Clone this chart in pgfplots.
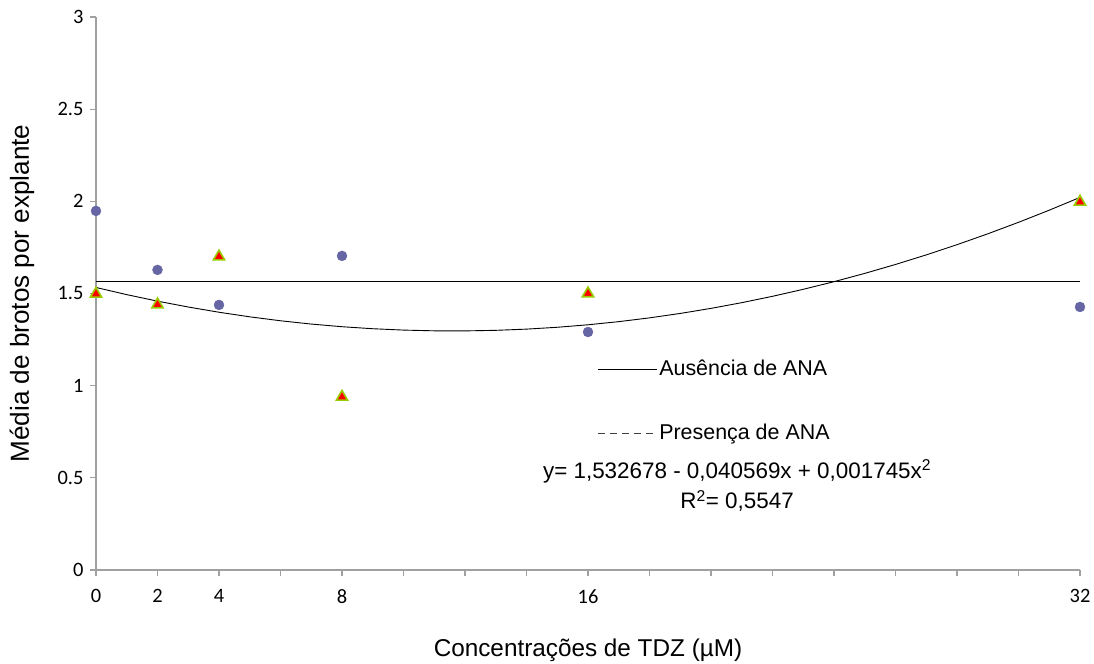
\documentclass[border=0pt]{standalone}
\usepackage{pgfplots}
\pgfplotsset{compat=1.18}
\usepackage{fontspec}
\setmainfont{Liberation Sans}
\newfontfamily\carlito{Carlito}
\definecolor{axgray}{RGB}{160,160,160}
\definecolor{circblue}{RGB}{102,102,164}
\definecolor{trired}{RGB}{255,0,0}
\definecolor{trigreen}{RGB}{153,204,0}
\begin{document}
\begin{tikzpicture}
\begin{axis}[
  at={(0,0)}, anchor=south west,
  scale only axis, width=984bp, height=553bp,
  xmin=0, xmax=32, ymin=0, ymax=3,
  axis lines*=left,
  axis line style={axgray, line width=1.2bp},
  xtick={0,2,4,8,16,32},
  minor xtick={6,10,12,14,18,20,22,24,26,28,30},
  ytick={0,0.5,1,1.5,2,2.5,3},
  yticklabels={0,0.5,1,1.5,2,2.5,3},
  tick align=outside,
  major tick length=6bp, minor tick length=6bp,
  every tick/.style={axgray, line width=1.2bp},
  /pgf/number format/assume math mode=true,
  ticklabel style={font=\carlito\fontsize{20.5}{24}\selectfont},
  xticklabel style={yshift=-10bp},
  yticklabel style={xshift=-3bp},
  xlabel={Concentrações de TDZ (µM)},
  ylabel={Média de brotos por explante},
  xlabel style={font=\fontsize{24.4}{28}\selectfont, at={(axis description cs:0.5,0)}, anchor=center, yshift=-80bp},
  ylabel style={font=\fontsize{26.2}{28}\selectfont, at={(axis description cs:0,0.5)}, anchor=center, yshift=74bp},
  clip=false,
  legend style={draw=none, fill=none, at={(axis cs:16.3,1.15)}, anchor=north west,
    font=\fontsize{21.5}{24}\selectfont, row sep=41bp, inner sep=0pt,
    nodes={text height=15bp, text depth=4bp, inner sep=2bp}},
  legend cell align=left,
  legend image code/.code={\draw[#1] (0bp,0bp) -- (59bp,0bp);},
]
% Horizontal line
\addplot[black, line width=0.9bp, forget plot] coordinates {(0,1.568) (32,1.568)};
% Quadratic fit curve
\addplot[black, line width=0.9bp, forget plot] coordinates {
(0,1.532678) (1,1.493854) (2,1.45852) (3,1.426676) (4,1.398322) (5,1.373458)
(6,1.352084) (7,1.3342) (8,1.319806) (9,1.308902) (10,1.301488) (11,1.297564)
(12,1.29713) (13,1.300186) (14,1.306732) (15,1.316768) (16,1.330294) (17,1.34731)
(18,1.367816) (19,1.391812) (20,1.419298) (21,1.450274) (22,1.48474) (23,1.522696)
(24,1.564142) (25,1.609078) (26,1.657504) (27,1.70942) (28,1.764826) (29,1.823722)
(30,1.886108) (31,1.951984) (32,2.02135)};
% circles
\addplot[only marks, mark=*, mark size=5bp, circblue, mark options={draw=circblue, fill=circblue}, forget plot]
  coordinates {(0,1.948) (2,1.628) (4,1.438) (8,1.704) (16,1.291) (32,1.427)};
% triangles
\addplot[only marks, mark=triangle*, mark size=6.5bp, mark options={draw=trigreen, fill=trired, line width=1.6bp}, forget plot]
  coordinates {(0,1.498) (2,1.44) (4,1.70) (8,0.939) (16,1.50) (32,1.997)};
\addlegendimage{black, line width=0.9bp}
\addlegendentry{Ausência de ANA}
\addlegendimage{black!75, line width=0.9bp, dash pattern=on 7bp off 5bp}
\addlegendentry{Presença de ANA}
\node[font=\fontsize{22.5}{24}\selectfont, anchor=center] at (axis cs:20.85,0.535) {y= 1,532678 - 0,040569x + 0,001745x\textsuperscript{2}};
\node[font=\fontsize{22.5}{24}\selectfont, anchor=center] at (axis cs:20.85,0.375) {R\textsuperscript{2}= 0,5547};
\end{axis}
\pgfresetboundingbox
\path[use as bounding box] (-96bp,-94bp) rectangle (998bp,570bp);
\end{tikzpicture}
\end{document}
